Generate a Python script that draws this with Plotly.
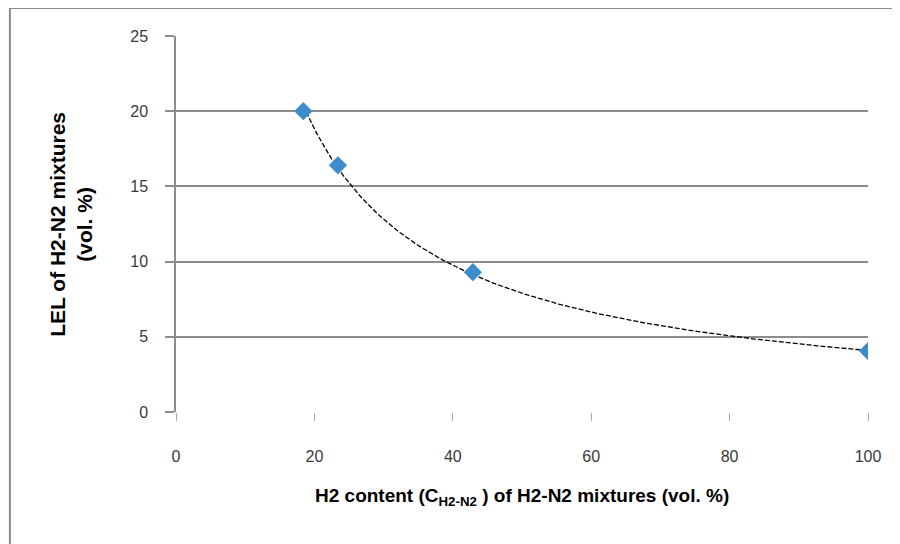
import numpy as np
import plotly.graph_objects as go

# Data
h2_content = [18.4, 23.4, 42.9, 100.0]   # vol. %
lel_mix = [20.0, 16.4, 9.3, 4.05]        # vol. %
x_ticks = [0, 20, 40, 60, 80, 100]
y_ticks = [0, 5, 10, 15, 20, 25]

# Power-law trend line (Excel-style) fitted to the data
b, ln_a = np.polyfit(np.log(h2_content), np.log(lel_mix), 1)
x_fit = np.linspace(min(h2_content), max(h2_content), 200)
y_fit = np.exp(ln_a) * x_fit ** b

fig = go.Figure()
fig.add_trace(go.Scatter(x=x_fit, y=y_fit, mode="lines",
                         line=dict(color="black", width=1.3, dash="5px,2px"),
                         hoverinfo="skip", showlegend=False))
fig.add_trace(go.Scatter(x=h2_content, y=lel_mix, mode="markers",
                         marker=dict(symbol="diamond", size=14, color="#3C8DCB",
                                     line=dict(width=0)),
                         showlegend=False))

tick_font = dict(family="Liberation Sans, Arial, sans-serif", size=16, color="#3a3a3a")
ytitle_font = dict(family="Liberation Sans, Arial, sans-serif", size=21, color="black",
                   weight="bold")
xtitle_font = dict(family="Liberation Sans, Arial, sans-serif", size=19, color="black",
                   weight="bold")

fig.update_layout(
    width=900, height=544,
    margin=dict(l=168, r=40, t=28, b=140),
    paper_bgcolor="white", plot_bgcolor="white",
    xaxis=dict(range=[0, 100], tickvals=x_ticks, showgrid=False, zeroline=False,
               showline=False, ticks="outside", ticklen=8, tickcolor="#AAAAAA",
               tickwidth=1, tickfont=tick_font, ticklabelstandoff=22),
    yaxis=dict(range=[0, 25], tickvals=y_ticks, showgrid=True, gridcolor="#8C8C8C",
               gridwidth=1.5, zeroline=True, zerolinecolor="white", zerolinewidth=2,
               showline=True, linecolor="#8C8C8C", linewidth=1.5,
               ticks="outside", ticklen=9, tickcolor="#8C8C8C", tickwidth=1.5,
               tickfont=tick_font, ticklabelstandoff=14),
    annotations=[
        dict(text="<b>LEL of H2-N2 mixtures<br>(vol. %)</b>", xref="paper", yref="paper",
             x=-0.152, y=0.5, xanchor="center", yanchor="middle", textangle=-90,
             showarrow=False, font=ytitle_font, align="center"),
        dict(text="<b>H2 content (C<sub>H2-N2</sub> ) of H2-N2 mixtures (vol. %)</b>",
             xref="paper", yref="paper", x=0.5, y=-0.226, xanchor="center",
             yanchor="middle", showarrow=False, font=xtitle_font),
    ],
    shapes=[dict(type="rect", xref="paper", yref="paper", x0=-0.24, x1=1.06,
                 y0=-0.4, y1=1.0745, line=dict(color="#8C8C8C", width=2),
                 fillcolor="rgba(0,0,0,0)", layer="below")],
)

fig.write_html("out.html")
